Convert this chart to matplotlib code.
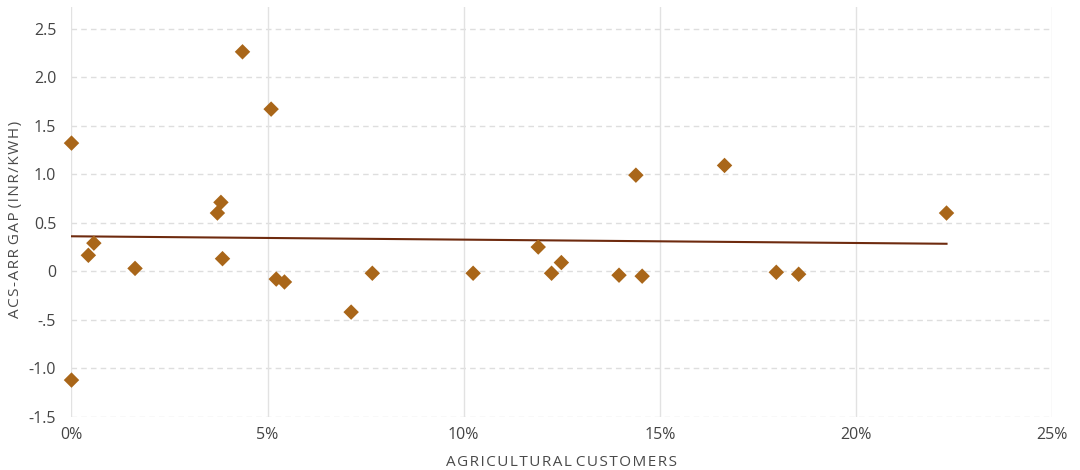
import matplotlib
matplotlib.use("Agg")
import matplotlib.pyplot as plt
import numpy as np
from matplotlib.ticker import FixedLocator, FuncFormatter

# share of agricultural customers (%) and ACS-ARR gap (INR/kWh)
agri_share = [0.0, 0.0, 0.43, 0.57, 1.62, 3.72, 3.81, 3.85, 4.36, 5.09, 5.22, 5.43,
              7.13, 7.67, 10.24, 11.90, 12.24, 12.49, 13.96, 14.39, 14.55, 16.65,
              17.97, 18.54, 22.31]
gap = [1.32, -1.12, 0.165, 0.29, 0.03, 0.60, 0.71, 0.13, 2.26, 1.67, -0.08, -0.11,
       -0.42, -0.02, -0.02, 0.25, -0.02, 0.09, -0.04, 0.99, -0.05, 1.09,
       -0.01, -0.03, 0.60]

x_ticks = [0, 5, 10, 15, 20, 25]
y_ticks = [-1.5, -1.0, -0.5, 0, 0.5, 1.0, 1.5, 2.0, 2.5]
y_tick_labels = ["-1.5", "-1.0", "-.5", "0", "0.5", "1.0", "1.5", "2.0", "2.5"]

plt.rcParams['font.family'] = ['Open Sans', 'DejaVu Sans']


# spread the letters out a little, like the tracked caps in the original
def spaced(text):
    return " ".join("\u200a".join(w) for w in text.split(" "))


fig = plt.figure(figsize=(10.8, 4.7), dpi=100)
ax = fig.add_axes([0.0662, 0.1128, 0.9079, 0.872])

x = np.array(agri_share)
y = np.array(gap)

# linear trend line across the data range
slope, intercept = np.polyfit(x, y, 1)
line_x = np.array([x.min(), x.max()])
ax.plot(line_x, slope * line_x + intercept, color='#6e2a0e', lw=1.5, zorder=3)

ax.scatter(x, y, marker='D', s=62, color='#a96619', edgecolors='none', zorder=4, clip_on=False)

ax.set_xlim(0, 25)
ax.set_ylim(-1.5, 2.72)

ax.xaxis.set_major_locator(FixedLocator(x_ticks))
ax.xaxis.set_major_formatter(FuncFormatter(lambda v, p: f"{int(v)}%"))
ax.set_yticks(y_ticks)
ax.set_yticklabels(y_tick_labels)

for v in y_ticks:
    ax.axhline(v, color='#dedede', lw=1, ls=(0, (4, 3)), zorder=1)
for v in x_ticks:
    ax.axvline(v, color='#e2e2e2', lw=1, zorder=1)

for s in ax.spines.values():
    s.set_visible(False)

ax.tick_params(axis='both', length=0, labelsize=11.5, colors='#444444')
ax.tick_params(axis='x', pad=7)
ax.tick_params(axis='y', pad=11)

ax.set_xlabel(spaced("AGRICULTURAL CUSTOMERS"), fontsize=11, color='#4a4a4a', labelpad=9)
ax.set_ylabel(spaced("ACS-ARR GAP (INR/KWH)"), fontsize=11, color='#4a4a4a')
ax.yaxis.set_label_coords(-0.0495, 0.483)

fig.savefig("out.png", dpi=100)
